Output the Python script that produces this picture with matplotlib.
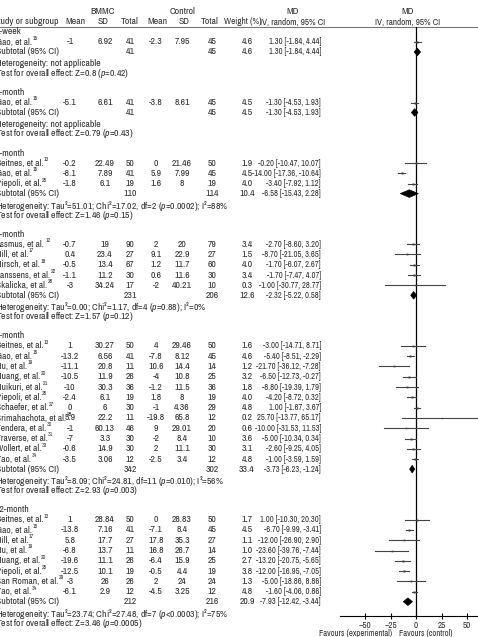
import matplotlib
matplotlib.use('Agg')
import matplotlib.pyplot as plt
from matplotlib.patches import Polygon

FONT = ['Archivo Narrow', 'DejaVu Sans']
plt.rcParams['font.family'] = FONT
plt.rcParams['mathtext.fontset'] = 'custom'
plt.rcParams['mathtext.it'] = 'Archivo Narrow:italic'
plt.rcParams['mathtext.rm'] = 'Archivo Narrow'

# ---- data ----
groups = ['1-week', '1-month', '3-month', '4-month', '6-month', '12-month']
study_group = [0, 1, 2, 2, 2, 3, 3, 3, 3, 3,
               4, 4, 4, 4, 4, 4, 4, 4, 4, 4, 4, 4,
               5, 5, 5, 5, 5, 5, 5, 5]
study_names = ['Gao', 'Gao',
               'Beitnes', 'Gao', 'Piepoli',
               'Assmus', 'Hill', 'Hirsch', 'Janssens', 'Skalicka',
               'Beitnes', 'Gao', 'Hu', 'Huang', 'Huikuri', 'Piepoli', 'Schaefer',
               'Srimahachota', 'Tendera', 'Traverse', 'Wollert', 'Yao',
               'Beitnes', 'Gao', 'Hill', 'Hu', 'Huang', 'Piepoli', 'San Roman', 'Yao']
study_refs = [15, 15, 13, 15, 25, 12, 17, 18, 22, 26,
              13, 15, 19, 20, 21, 25, 27, 28, 30, 31, 33, 34,
              13, 15, 17, 19, 20, 25, 29, 34]
bm_mean = [-1, -5.1, -0.2, -8.1, -1.8, -0.7, 0.4, -0.5, -1.1, -3,
           1, -13.2, -11.1, -10.5, -10, -2.4, 0, 5.9, -1, -7, -0.6, -3.5,
           1, -13.8, 5.8, -6.8, -19.6, -12.5, -3, -6.1]
bm_sd = [6.92, 6.61, 22.49, 7.89, 6.1, 19, 23.4, 13.4, 11.2, 34.24,
         30.27, 6.56, 20.8, 11.9, 30.3, 6.1, 6, 22.2, 60.13, 3.3, 14.9, 3.06,
         28.84, 7.16, 17.7, 13.7, 11.1, 10.1, 26, 2.9]
bm_n = [41, 41, 50, 41, 19, 90, 27, 67, 30, 17,
        50, 41, 11, 26, 36, 19, 30, 11, 46, 30, 30, 12,
        50, 41, 27, 11, 26, 19, 26, 12]
ct_mean = [-2.3, -3.8, 0, 5.9, 1.6, 2, 9.1, 1.2, 0.6, -2,
           4, -7.8, 10.6, -4, -1.2, 1.8, -1, -19.8, 9, -2, 2, -2.5,
           0, -7.1, 17.8, 16.8, -6.4, -0.5, 2, -4.5]
ct_sd = [7.95, 8.61, 21.46, 7.99, 8, 20, 22.9, 11.7, 11.6, 40.21,
         29.46, 8.12, 14.4, 10.8, 11.5, 8, 4.36, 65.8, 29.01, 8.4, 11.1, 3.4,
         28.83, 8.4, 35.3, 26.7, 15.9, 4.4, 24, 3.25]
ct_n = [45, 45, 50, 45, 19, 79, 27, 60, 30, 10,
        50, 45, 14, 25, 36, 19, 29, 12, 20, 10, 30, 12,
        50, 45, 27, 14, 25, 19, 24, 12]
weights = [4.6, 4.5, 1.9, 4.5, 4.0, 3.4, 1.5, 4.0, 3.4, 0.3,
           1.6, 4.6, 1.2, 3.2, 1.8, 4.0, 4.8, 0.2, 0.6, 3.6, 3.1, 4.8,
           1.7, 4.5, 1.1, 1.0, 2.7, 3.8, 1.3, 4.8]
md = [1.30, -1.30, -0.20, -14.00, -3.40, -2.70, -8.70, -1.70, -1.70, -1.00,
      -3.00, -5.40, -21.70, -6.50, -8.80, -4.20, 1.00, 25.70, -10.00, -5.00, -2.60, -1.00,
      1.00, -6.70, -12.00, -23.60, -13.20, -12.00, -5.00, -1.60]
md_lo = [-1.84, -4.53, -10.47, -17.36, -7.92, -8.60, -21.05, -6.07, -7.47, -30.77,
         -14.71, -8.51, -36.12, -12.73, -19.39, -8.72, -1.67, -13.77, -31.53, -10.34, -9.25, -3.59,
         -10.30, -9.99, -26.90, -39.76, -20.75, -16.95, -18.86, -4.06]
md_hi = [4.44, 1.93, 10.07, -10.64, 1.12, 3.20, 3.65, 2.67, 4.07, 28.77,
         8.71, -2.29, -7.28, -0.27, 1.79, 0.32, 3.67, 65.17, 11.53, 0.34, 4.05, 1.59,
         12.30, -3.41, 2.90, -7.44, -5.65, -7.05, 8.86, 0.86]
ci_labels = ['1.30 [-1.84, 4.44]', '-1.30 [-4.53, 1.93]',
             '-0.20 [-10.47, 10.07]', '-14.00 [-17.36, -10.64]', '-3.40 [-7.92, 1.12]',
             '-2.70 [-8.60, 3.20]', '-8.70 [-21.05, 3.65]', '-1.70 [-6.07, 2.67]', '-1.70 [-7.47, 4.07]',
             '-1.00 [-30.77, 28.77]',
             '-3.00 [-14.71, 8.71]', '-5.40 [-8.51, -2.29]', '-21.70 [-36.12, -7.28]', '-6.50 [-12.73, -0.27]',
             '-8.80 [-19.39, 1.79]', '-4.20 [-8.72, 0.32]', '1.00 [-1.67, 3.67]', '25.70 [-13.77, 65.17]',
             '-10.00 [-31.53, 11.53]', '-5.00 [-10.34, 0.34]', '-2.60 [-9.25, 4.05]', '-1.00 [-3.59, 1.59]',
             '1.00 [-10.30, 20.30]', '-6.70 [-9.99, -3.41]', '-12.00 [-26.90, 2.90]', '-23.60 [-39.76, -7.44]',
             '-13.20 [-20.75, -5.65]', '-12.00 [-16.95, -7.05]', '-5.00 [-18.86, 8.86]', '-1.60 [-4.06, 0.86]']

sub_bm_n = [41, 41, 110, 231, 342, 212]
sub_ct_n = [45, 45, 114, 206, 302, 216]
sub_weight = [4.6, 4.5, 10.4, 12.6, 33.4, 20.9]
sub_md = [1.30, -1.30, -6.58, -2.32, -3.73, -7.93]
sub_lo = [-1.84, -4.53, -15.43, -5.22, -6.23, -12.42]
sub_hi = [4.44, 1.93, 2.28, 0.58, -1.24, -3.44]

het_texts = ['Heterogeneity: not applicable',
             'Heterogeneity: not applicable',
             'Heterogeneity: Tau²=51.01; Chi²=17.02, df=2 ($p$=0.0002); I²=88%',
             'Heterogeneity: Tau²=0.00; Chi²=1.17, df=4 ($p$=0.88); I²=0%',
             'Heterogeneity: Tau²=8.09; Chi²=24.81, df=11 ($p$=0.010); I²=56%',
             'Heterogeneity: Tau²=23.74; Chi²=27.48, df=7 ($p$<0.0003); I²=75%']
test_texts = ['Test for overall effect: Z=0.8 ($p$=0.42)',
              'Test for overall effect: Z=0.79 ($p$=0.43)',
              'Test for overall effect: Z=1.46 ($p$=0.15)',
              'Test for overall effect: Z=1.57 ($p$=0.12)',
              'Test for overall effect: Z=2.93 ($p$=0.003)',
              'Test for overall effect: Z=3.46 ($p$=0.0005)']

# ---- layout (pixel coordinates) ----
W, H = 478, 637
TXT = '#333333'
FS = 7.0
FS_CI = 6.1
X_NAME = -4.5
X_BM_MEAN, X_BM_SD, X_BM_N = 70, 105, 130
X_CT_MEAN, X_CT_SD, X_CT_N = 156, 182, 212
X_W, X_CI = 247, 321
AX_Y = 616

fig = plt.figure(figsize=(W / 100, H / 100), dpi=100)
ax = fig.add_axes([0, 0, 1, 1])
ax.set_xlim(0, W)
ax.set_ylim(H, 0)
ax.axis('off')

fax = fig.add_axes([339.5 / W, (H - AX_Y) / H, 153 / W, (AX_Y - 27) / H])
fax.set_xlim(-75, 75)
fax.set_ylim(AX_Y, 27)
fax.patch.set_alpha(0)
for s in ['left', 'right', 'top']:
    fax.spines[s].set_visible(False)
fax.spines['bottom'].set_linewidth(0.8)
fax.set_yticks([])
fax.set_xticks([-50, -25, 0, 25, 50])
fax.tick_params(axis='x', direction='inout', length=5, width=0.8, labelsize=FS - 0.5, pad=1.0, labelcolor=TXT)
fax.axvline(0, color='black', lw=0.9, zorder=1)


def t(x, y, s, ha='center', fs=FS, **kw):
    return ax.text(x, y, s, ha=ha, va='center', fontsize=fs, color=TXT, **kw)


# header
t(103, 12, 'BMMC')
t(183, 12, 'Control')
t(293, 12, 'MD')
t(408, 12, 'MD')
t(-7, 22, 'Study or subgroup', ha='left')
t(75, 22, 'Mean')
t(103, 22, 'SD')
t(130, 22, 'Total')
t(157, 22, 'Mean')
t(184, 22, 'SD')
t(210, 22, 'Total')
t(243, 22, 'Weight (%)', fs=FS - 0.4)
t(293, 22, 'IV, random, 95% CI', fs=FS - 0.4)
t(408, 22, 'IV, random, 95% CI', fs=FS - 0.4)
ax.plot([0, W], [27, 27], color='#777777', lw=0.8)

y = 32.0
for g, gname in enumerate(groups):
    t(X_NAME, y, gname, ha='left')
    y += 10
    idx = [i for i, sg in enumerate(study_group) if sg == g]
    for k, i in enumerate(idx):
        if k > 0:
            y += 10.3
        name = t(X_NAME, y, f'{study_names[i]}, et al.', ha='left', fs=6.8)
        ax.annotate(str(study_refs[i]), xy=(1.0, 0.62), xycoords=name, xytext=(0.6, 0),
                    textcoords='offset points', ha='left', va='bottom', fontsize=4.2, color=TXT)
        t(X_BM_MEAN, y, f'{bm_mean[i]:g}')
        t(X_BM_SD, y, f'{bm_sd[i]:g}')
        t(X_BM_N, y, f'{bm_n[i]}')
        t(X_CT_MEAN, y, f'{ct_mean[i]:g}')
        t(X_CT_SD, y, f'{ct_sd[i]:g}')
        t(X_CT_N, y, f'{ct_n[i]}')
        t(X_W, y, f'{weights[i]:.1f}')
        t(X_CI, y, ci_labels[i], ha='right', fs=FS_CI)
        fax.plot([md_lo[i], md_hi[i]], [y, y], color='#444444', lw=0.8, zorder=2)
        fax.plot(md[i], y, marker='s', ms=1.0 + 0.2 * weights[i], color='#444444',
                 mec='none', zorder=3)
    y += 10
    t(X_NAME, y, 'Subtotal (95% CI)', ha='left')
    t(X_BM_N, y, f'{sub_bm_n[g]}')
    t(X_CT_N, y, f'{sub_ct_n[g]}')
    t(X_W, y, f'{sub_weight[g]:.1f}')
    t(X_CI, y, f'{sub_md[g]:.2f} [{sub_lo[g]:.2f}, {sub_hi[g]:.2f}]', ha='right', fs=FS_CI)
    dia = Polygon([(sub_lo[g], y), (sub_md[g], y - 3.8), (sub_hi[g], y), (sub_md[g], y + 3.8)],
                  closed=True, facecolor='black', edgecolor='black', lw=0.5, zorder=4)
    fax.add_patch(dia)
    y += 12
    t(X_NAME, y, het_texts[g], ha='left')
    y += 9.5
    t(X_NAME, y, test_texts[g], ha='left')
    y += 19

fax.text(-23, 633, 'Favours (experimental)', ha='right', va='center', fontsize=FS - 0.8,
         color=TXT, transform=fax.transData, clip_on=False)
fax.text(-17, 633, 'Favours (control)', ha='left', va='center', fontsize=FS - 0.8,
         color=TXT, transform=fax.transData, clip_on=False)

fig.savefig('out.png', dpi=100)
